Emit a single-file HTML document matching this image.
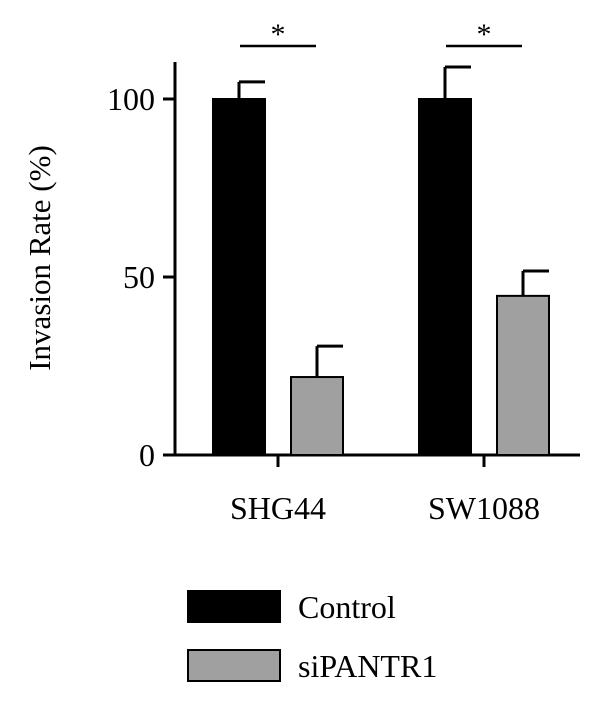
<!DOCTYPE html>
<html><head><meta charset="utf-8"><style>
html,body{margin:0;padding:0;background:#fff;}
svg{display:block;font-family:"Liberation Serif",serif;}
</style></head><body>
<svg id="chart" width="600" height="705"></svg>
<script>
const groups = ["SHG44", "SW1088"];
const controlValues = [100, 100];
const controlErrors = [4.8, 9];
const siValues = [21.9, 44.7];
const siErrors = [8.7, 7];
const yTicks = [0, 50, 100];
const seriesNames = ["Control", "siPANTR1"];

const NS = "http://www.w3.org/2000/svg";
const svg = document.getElementById("chart");
const y0 = 455, pxPerUnit = 3.56, axisX = 175;
function yScale(v){ return y0 - v * pxPerUnit; }
const groupCenters = [278, 484];
function xScale(i){ return groupCenters[i]; }
function mk(tag, attrs, parent){ const e=document.createElementNS(NS,tag); for(const k in attrs) e.setAttribute(k,attrs[k]); (parent||svg).appendChild(e); return e; }

// axes
const ya = mk("line",{x1:axisX,y1:62,x2:axisX,y2:y0+1.5,stroke:"#000","stroke-width":3});


const xa = mk("line",{x1:axisX-1.5,y1:y0,x2:580,y2:y0,stroke:"#000","stroke-width":3});



yTicks.forEach(t=>{
  const tk = mk("line",{x1:axisX-12,y1:yScale(t),x2:axisX,y2:yScale(t),stroke:"#000","stroke-width":3});
  
  
  const lb = mk("text",{x:155,y:yScale(t)+11,"text-anchor":"end","font-size":32});
  lb.textContent = t;
  
  
});

const yt = mk("text",{x:0,y:0,"text-anchor":"middle","font-size":31,transform:"translate(50,258) rotate(-90)"});
yt.textContent = "Invasion Rate (%)";



const barW = 52, offset = 13;
function drawBar(cx, v, err, fill, name){
  const top = yScale(v);
  const r = mk("rect",{x:cx-barW/2,y:top,width:barW,height:y0-top,fill:fill,stroke:"#000","stroke-width":2});
  
  
  const et = yScale(v+err);
  const e1 = mk("line",{x1:cx,y1:top,x2:cx,y2:et,stroke:"#000","stroke-width":3});
  
  
  const e2 = mk("line",{x1:cx,y1:et,x2:cx+barW/2,y2:et,stroke:"#000","stroke-width":3});
  
  
}
groups.forEach((g,i)=>{
  const c = xScale(i);
  drawBar(c-barW/2-offset, controlValues[i], controlErrors[i], "#000", "bar-control-"+g.toLowerCase());
  drawBar(c+barW/2+offset, siValues[i], siErrors[i], "#a0a0a0", "bar-sipantr1-"+g.toLowerCase());
  const tk = mk("line",{x1:c,y1:y0,x2:c,y2:y0+12,stroke:"#000","stroke-width":3});
  
  
  const lb = mk("text",{x:c,y:y0+64,"text-anchor":"middle","font-size":32});
  lb.textContent = g;
  
  
  const sl = mk("line",{x1:c-38,y1:46,x2:c+38,y2:46,stroke:"#000","stroke-width":2.5});
  
  
  const st = mk("text",{x:c,y:44,"text-anchor":"middle","font-size":30});
  st.textContent = "*";
  
  
});

const legendFill = ["#000","#a0a0a0"];
const legendY = [591, 650];
seriesNames.forEach((s,i)=>{
  const r = mk("rect",{x:188,y:legendY[i],width:92,height:31,fill:legendFill[i],stroke:"#000","stroke-width":2});
  
  
  const t = mk("text",{x:298,y:legendY[i]+27,"font-size":32});
  t.textContent = s;
  
  
});
</script>
</body></html>
